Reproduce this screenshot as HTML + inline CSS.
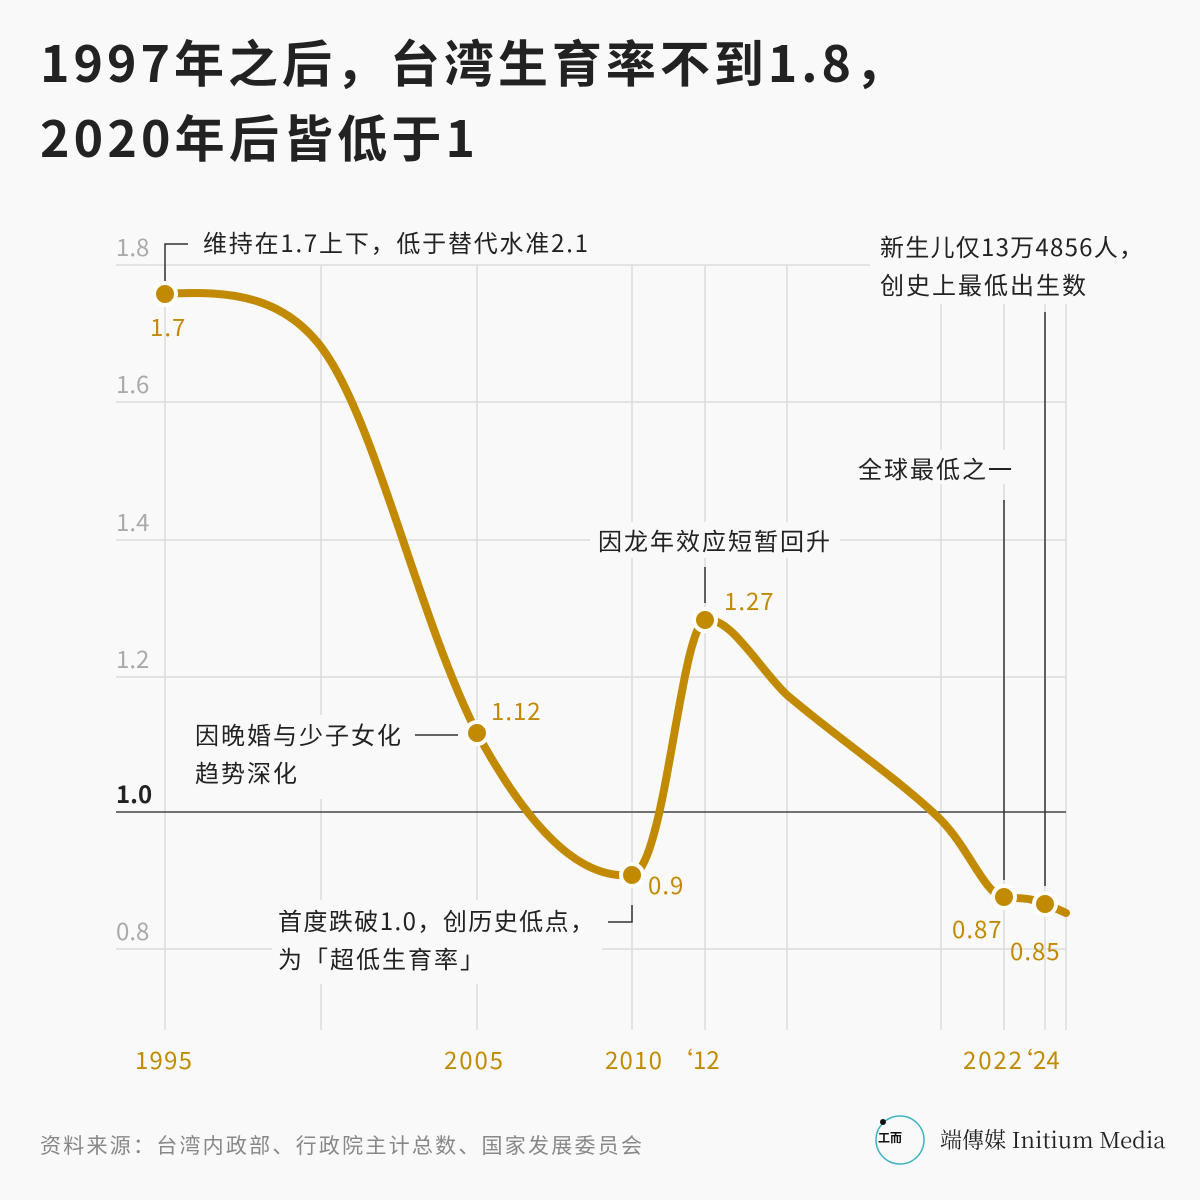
<!DOCTYPE html>
<html><head><meta charset="utf-8"><style>
html,body{margin:0;padding:0;background:#f9f9f9;}
svg{display:block;}
text{font-family:"Noto Sans CJK SC","Liberation Sans",sans-serif;}
</style></head><body>
<svg width="1200" height="1200" viewBox="0 0 1200 1200" xmlns="http://www.w3.org/2000/svg">
<rect width="1200" height="1200" fill="#f9f9f9"/>
<text x="40" y="82" font-size="50" font-weight="bold" fill="#222" textLength="865" lengthAdjust="spacing">1997年之后，台湾生育率不到1.8，</text>
<text x="40" y="157" font-size="50" font-weight="bold" fill="#222" textLength="435" lengthAdjust="spacing">2020年后皆低于1</text>
<g stroke="#dcdcdc" stroke-width="1.5">
<line x1="116" y1="265" x2="1066" y2="265"/>
<line x1="116" y1="402" x2="1066" y2="402"/>
<line x1="116" y1="540" x2="1066" y2="540"/>
<line x1="116" y1="677" x2="1066" y2="677"/>
<line x1="116" y1="949" x2="1066" y2="949"/>
<line x1="165" y1="265" x2="165" y2="1030"/>
<line x1="321" y1="265" x2="321" y2="1030"/>
<line x1="477" y1="265" x2="477" y2="1030"/>
<line x1="632" y1="265" x2="632" y2="1030"/>
<line x1="705" y1="265" x2="705" y2="1030"/>
<line x1="787" y1="265" x2="787" y2="1030"/>
<line x1="941" y1="265" x2="941" y2="1030"/>
<line x1="1004" y1="265" x2="1004" y2="1030"/>
<line x1="1045" y1="265" x2="1045" y2="1030"/>
<line x1="1066" y1="265" x2="1066" y2="1030"/>
</g>
<line x1="116" y1="812" x2="1066" y2="812" stroke="#444" stroke-width="1.5"/>
<g font-size="24" fill="#aaa">
<text x="116" y="256">1.8</text><text x="116" y="393">1.6</text><text x="116" y="531">1.4</text>
<text x="116" y="668">1.2</text><text x="116" y="940">0.8</text>
</g>
<text x="116" y="803" font-size="24" font-weight="bold" fill="#222">1.0</text>
<g fill="#f9f9f9">
<rect x="190" y="225" width="410" height="36"/>
<rect x="870" y="228" width="290" height="76"/>
<rect x="850" y="450" width="170" height="34"/>
<rect x="590" y="522" width="250" height="36"/>
<rect x="188" y="715" width="225" height="84"/>
<rect x="272" y="900" width="330" height="84"/>
<rect x="130" y="1040" width="950" height="40"/>
</g>
<g stroke="#333" stroke-width="1.5" fill="none">
<polyline points="165,282 165,244 188,244"/>
<line x1="415" y1="735" x2="458" y2="735"/>
<polyline points="608,922 632,922 632,905"/>
<line x1="705" y1="567" x2="705" y2="603"/>
<line x1="1004" y1="500" x2="1004" y2="880"/>
<line x1="1045" y1="312" x2="1045" y2="886"/>
</g>
<path d="M165,294 C230,290 290,295 330,360 C380,440 420,620 477,733 C530,830 580,880 632,875 C665,870 680,630 705,620 C730,615 760,670 787,695 C840,740 900,780 941,820 C970,850 985,895 1004,897 C1020,899 1030,897 1045,904 C1055,908 1060,910 1066,913" fill="none" stroke="#c28a00" stroke-width="8" stroke-linecap="round"/>
<g fill="#c28a00" stroke="#fff" stroke-width="4">
<circle cx="165" cy="294" r="11"/><circle cx="477" cy="733" r="11"/>
<circle cx="632" cy="875" r="11"/><circle cx="705" cy="620" r="11"/>
<circle cx="1004" cy="897" r="11"/><circle cx="1045" cy="904" r="11"/>
</g>
<g font-size="24" fill="#c28a00" letter-spacing="1">
<text x="150" y="336">1.7</text><text x="491" y="720">1.12</text>
<text x="648" y="894">0.9</text><text x="724" y="610">1.27</text>
<text x="952" y="938">0.87</text><text x="1010" y="960">0.85</text>
<text x="135" y="1069" textLength="58">1995</text><text x="444" y="1069" textLength="60">2005</text>
<text x="605" y="1069" textLength="58">2010</text>
<text x="963" y="1069" textLength="60">2022</text>
</g>
<g font-size="24" fill="#c28a00" style="font-family:'Liberation Sans',sans-serif">
<text x="669" y="1069">‘12</text>
<text x="1009" y="1069">‘24</text>
</g>
<g font-size="24" fill="#222" letter-spacing="2">
<text x="203" y="252" textLength="387">维持在1.7上下，低于替代水准2.1</text>
<text x="880" y="256" textLength="265">新生儿仅13万4856人，</text>
<text x="880" y="294">创史上最低出生数</text>
<text x="858" y="478">全球最低之一</text>
<text x="598" y="550">因龙年效应短暂回升</text>
<text x="195" y="744">因晚婚与少子女化</text>
<text x="195" y="782">趋势深化</text>
<text x="278" y="930" textLength="318">首度跌破1.0，创历史低点，</text>
<text x="278" y="968">为「超低生育率」</text>
</g>
<text x="40" y="1153" font-size="21" fill="#888" textLength="602">资料来源：台湾内政部、行政院主计总数、国家发展委员会</text>
<circle cx="900" cy="1140" r="24" fill="none" stroke="#3bb3c3" stroke-width="1.5"/>
<circle cx="883" cy="1122" r="3" fill="#111"/>
<text x="878" y="1142" font-size="12" fill="#111" font-weight="bold">工而</text>
<text x="940" y="1148" font-size="22" fill="#222" style="font-family:'Noto Serif CJK SC','Liberation Serif',serif">端傳媒 Initium Media</text>
</svg>
</body></html>
